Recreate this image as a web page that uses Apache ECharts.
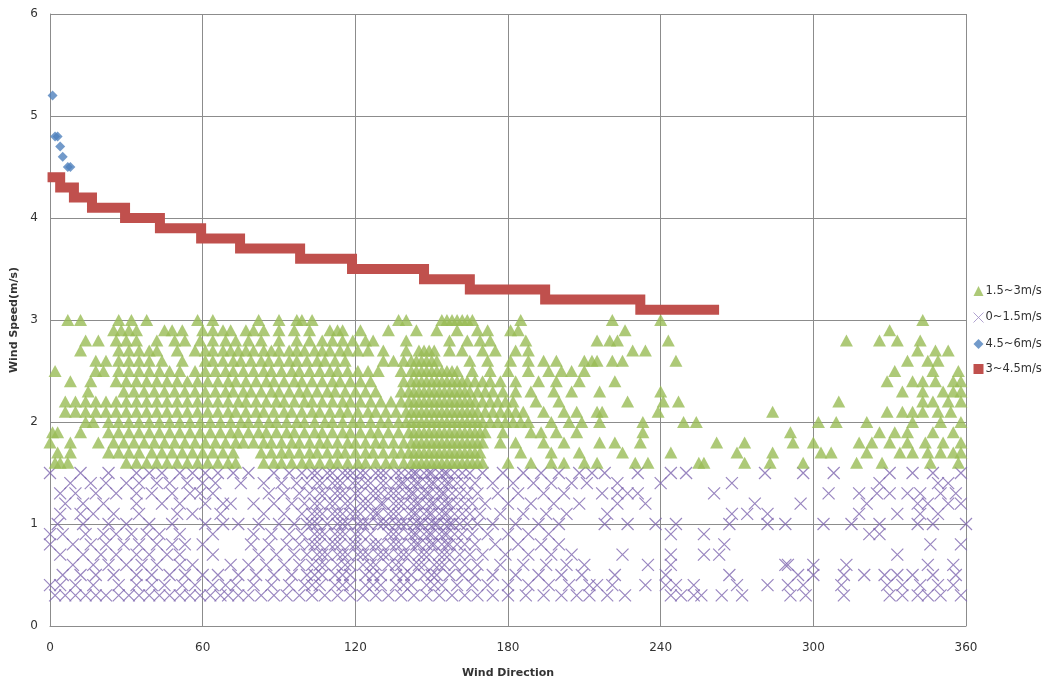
<!DOCTYPE html>
<html>
<head>
<meta charset="utf-8">
<script src="https://cdn.jsdelivr.net/npm/echarts@6/dist/echarts.min.js"></script>
<style>
  html, body { margin: 0; padding: 0; background: #ffffff; }
  #chart { width: 1047px; height: 684px; }
</style>
</head>
<body>
<div id="chart"></div>
<script>
// Wind speed (m/s) versus wind direction (degrees), grouped by speed band.

// 1.5~3 m/s band: one row of directions per speed level
const greenSpeeds = [3.0, 2.9, 2.8, 2.7, 2.6, 2.5, 2.4, 2.3, 2.2, 2.1, 2.0, 1.9, 1.8, 1.7, 1.6];
const greenDirections = [
  [7,12,27,32,38,58,64,82,90,97,99,103,137,140,154,156,158,160,162,164,166,185,221,240,343],
  [25,28,31,34,45,48,52,60,64,68,71,77,80,84,90,96,102,110,113,115,122,133,144,152,160,168,172,181,184,226,330],
  [14,19,26,30,34,42,49,53,59,64,69,73,78,83,90,97,102,107,111,115,119,124,127,140,157,164,169,173,187,215,220,223,243,313,326,333,342],
  [12,27,31,35,39,42,50,57,61,64,68,71,74,77,80,84,87,90,94,97,100,104,107,110,114,117,121,125,131,140,145,147,149,151,157,162,170,175,183,188,229,234,341,348,353],
  [18,22,27,31,35,39,44,52,61,64,68,72,75,79,83,86,90,94,97,101,105,108,112,116,131,135,139,142,144,146,148,150,152,165,172,181,188,194,199,210,213,215,221,225,246,337,345,349],
  [2,18,21,27,31,35,39,43,47,51,57,61,65,69,72,76,80,84,87,91,95,98,102,106,110,113,117,121,125,129,138,142,144,146,148,150,152,154,156,158,160,166,173,180,188,196,201,205,210,332,347,357],
  [8,16,26,30,34,38,42,46,50,54,58,62,66,70,73,77,81,85,88,92,96,99,103,107,111,114,118,122,126,139,142,144,146,148,150,152,154,156,158,160,162,164,167,170,173,177,183,192,199,208,222,329,339,343,348,355,358],
  [15,29,33,37,41,45,49,53,57,61,65,69,72,76,79,83,87,90,94,98,101,105,109,112,116,120,124,128,138,141,143,145,147,149,151,153,155,157,159,161,163,165,168,171,174,178,183,189,198,205,216,240,335,343,351,355,358],
  [6,10,14,18,22,26,30,34,38,42,46,50,54,58,62,66,70,74,77,81,85,89,92,96,100,103,107,111,115,118,122,126,130,134,138,141,143,145,147,149,151,153,155,157,159,161,163,165,167,170,173,176,179,182,191,200,227,241,247,310,343,347,353,358],
  [6,10,14,18,22,26,30,34,38,42,46,50,54,58,62,66,70,73,77,81,84,88,92,95,99,103,106,110,114,117,121,125,128,132,136,140,142,144,146,148,150,152,154,156,158,160,162,164,166,168,171,174,177,180,183,186,194,202,207,215,217,239,284,329,335,339,343,349,354],
  [14,17,23,27,31,35,39,43,47,51,55,59,63,67,71,75,78,82,86,89,93,97,100,104,108,111,115,119,122,126,130,133,137,140,142,144,146,148,150,152,154,156,158,160,162,164,166,168,170,173,176,179,182,185,188,197,204,209,216,233,249,254,302,309,321,339,350,358],
  [1,3,12,23,27,31,35,39,43,47,51,55,59,63,67,71,74,78,82,85,89,93,96,100,104,107,111,115,118,122,126,129,133,137,141,143,145,147,149,151,153,155,157,159,161,163,165,167,169,171,178,189,193,199,207,233,291,326,332,337,347,355],
  [0,8,19,25,29,33,37,41,45,49,53,57,61,65,69,73,76,80,84,87,91,95,98,102,106,109,113,117,120,124,128,131,135,139,142,144,146,148,150,152,154,156,158,160,162,164,166,168,170,177,183,194,202,216,222,232,262,273,292,300,318,323,330,337,344,351,358],
  [3,8,23,27,31,35,40,44,48,52,56,60,64,68,72,83,87,91,94,98,102,105,109,113,116,120,124,127,131,135,138,141,143,145,147,149,151,153,155,157,159,161,163,165,167,169,185,197,208,225,244,270,284,303,307,321,334,339,345,350,355,358],
  [2,4,7,30,34,38,42,46,50,54,58,62,66,70,73,84,88,91,95,99,102,106,110,113,117,121,124,128,132,135,139,142,144,146,148,150,152,154,156,158,160,162,164,166,168,170,180,189,197,202,210,215,230,235,255,257,273,283,296,317,327,346,357]
];

// 0~1.5 m/s band: one row of directions per speed level
const purpleSpeeds = [1.5, 1.4, 1.3, 1.2, 1.1, 1.0, 0.9, 0.8, 0.7, 0.6, 0.5, 0.4, 0.3];
const purpleDirections = [
  [0,12,23,34,39,44,51,56,61,66,72,78,88,94,99,103,105,109,111,115,117,119,122,124,128,130,132,136,138,141,143,144,147,149,150,153,155,156,159,162,165,170,178,186,193,200,208,213,218,231,244,250,281,296,308,330,339,347,358],
  [8,16,22,30,35,42,47,54,60,65,75,84,91,97,101,105,107,111,113,115,119,121,124,126,130,132,136,138,139,142,144,145,148,150,151,154,156,157,160,163,167,174,182,190,197,205,211,223,240,268,326,349,353],
  [4,10,18,26,34,40,48,55,59,64,86,92,98,102,106,108,112,114,116,120,122,126,128,130,133,135,137,140,142,143,146,148,149,152,154,155,158,161,164,168,176,184,194,202,217,223,227,231,261,306,318,325,330,337,342,350,356],
  [6,13,21,34,44,51,61,68,71,80,88,95,100,104,106,110,112,116,118,122,124,126,130,131,135,137,139,142,144,145,148,150,151,154,156,157,160,163,166,171,180,189,198,208,223,234,277,295,321,341,345,353,358],
  [4,12,17,25,35,50,56,67,84,92,99,103,105,107,111,113,115,118,120,122,126,128,129,133,135,137,141,143,144,147,149,150,153,155,156,159,162,165,169,177,186,195,203,219,268,274,282,318,333,342,349],
  [3,13,23,30,39,48,61,68,74,82,90,96,101,103,105,109,113,115,117,121,123,125,129,131,133,136,138,140,143,145,146,149,151,152,155,157,158,161,164,168,174,183,192,200,218,227,238,246,267,282,289,304,315,326,341,347,360],
  [0,5,14,21,26,32,38,43,51,64,80,87,94,99,104,106,108,112,114,116,120,122,126,133,135,137,141,143,144,147,149,150,153,155,156,159,162,166,172,180,188,196,244,257,322,326],
  [0,9,16,22,29,35,42,48,53,60,79,86,93,98,102,104,106,110,112,114,118,120,122,126,128,130,134,136,138,142,144,145,148,150,151,154,156,157,160,163,167,175,184,193,200,265,346,358],
  [4,13,20,26,34,39,46,51,64,82,89,96,101,105,107,109,113,115,117,121,123,125,129,131,133,137,139,141,145,147,149,153,155,157,161,165,170,179,188,197,205,225,244,257,263,333],
  [9,17,23,30,36,42,51,56,71,78,85,92,98,103,106,108,113,116,118,123,126,128,133,136,138,143,145,147,151,153,155,159,163,168,177,186,195,203,210,235,244,289,290,300,313,345,355],
  [5,12,18,25,34,40,47,53,60,66,74,81,88,95,101,104,107,112,115,118,124,127,130,136,139,142,147,150,152,157,162,167,174,183,192,201,209,222,242,267,294,300,312,320,328,333,339,347,356],
  [0,4,10,17,27,34,40,45,52,57,64,69,73,80,87,94,100,103,106,112,115,118,124,127,130,136,139,142,148,151,154,160,166,172,180,188,196,204,212,215,221,234,242,246,253,270,282,290,296,311,329,335,342,349,355],
  [2,6,10,14,18,22,27,31,35,39,43,47,51,55,59,63,67,70,74,78,83,88,93,98,103,108,113,118,123,128,133,138,143,148,153,158,163,168,174,180,187,194,201,207,212,219,226,244,248,253,256,264,272,291,297,312,330,335,341,345,350,358]
];

// 4.5~6 m/s band
const blueDirections = [1, 2, 3, 4, 5, 7, 8];
const blueSpeeds = [5.2, 4.8, 4.8, 4.7, 4.6, 4.5, 4.5];

// 3~4.5 m/s band: runs of constant speed (start direction, end direction, speed)
const redStart = [1, 4, 9.4, 16.5, 29.5, 43.2, 59.4, 74.7, 98.3, 118.7, 147, 165, 194.6, 232];
const redEnd = [4, 9.4, 16.5, 29.5, 43.2, 59.4, 74.7, 98.3, 118.7, 147, 165, 194.6, 232, 261];
const redSpeeds = [4.4, 4.3, 4.2, 4.1, 4.0, 3.9, 3.8, 3.7, 3.6, 3.5, 3.4, 3.3, 3.2, 3.1];

// Axis ticks
const xTicks = [0, 60, 120, 180, 240, 300, 360];
const yTicks = [0, 1, 2, 3, 4, 5, 6];

function rowsToPoints(speeds, directions) {
  const pts = [];
  speeds.forEach((s, i) => directions[i].forEach(d => pts.push([d, s])));
  return pts;
}
const greenData = rowsToPoints(greenSpeeds, greenDirections);
const purpleData = rowsToPoints(purpleSpeeds, purpleDirections);
const blueData = blueDirections.map((d, i) => [d, blueSpeeds[i]]);
const redData = [];
redStart.forEach((s, i) => {
  redData.push([s, redSpeeds[i]]);
  redData.push([redEnd[i], redSpeeds[i]]);
});

const FONT = 'DejaVu Sans';
const gridColor = '#8c8c8c';
const crossPath = 'path://M0,0L10,10M10,0L0,10';

const chart = echarts.init(document.getElementById('chart'), null, { renderer: 'canvas' });
chart.setOption({
  animation: false,
  backgroundColor: '#ffffff',
  textStyle: { fontFamily: FONT },
  grid: { left: 50, right: 81, top: 14, bottom: 54, containLabel: false },
  legend: {
    orient: 'vertical',
    left: 966,
    top: 280,
    itemGap: 13,
    itemWidth: 10,
    itemHeight: 10,
    textStyle: { fontFamily: FONT, fontSize: 11.5, color: '#333333', padding: [0, 0, 0, -3] },
    data: [
      { name: '1.5~3m/s', icon: 'triangle' },
      { name: '0~1.5m/s', icon: crossPath, itemStyle: { color: 'none', borderColor: '#9d8cc4', borderWidth: 1 } },
      { name: '4.5~6m/s', icon: 'diamond' },
      { name: '3~4.5m/s', icon: 'rect' }
    ]
  },
  xAxis: {
    type: 'value',
    min: xTicks[0],
    max: xTicks[xTicks.length - 1],
    interval: 60,
    name: 'Wind Direction',
    nameLocation: 'middle',
    nameGap: 42,
    nameTextStyle: { fontFamily: FONT, fontSize: 11, fontWeight: 'bold', color: '#333333' },
    axisLine: { show: true, lineStyle: { color: gridColor, width: 1 } },
    axisTick: { show: false },
    axisLabel: { fontFamily: FONT, fontSize: 12, color: '#333333', margin: 16 },
    splitLine: { show: true, lineStyle: { color: gridColor, width: 1 } }
  },
  yAxis: {
    type: 'value',
    min: yTicks[0],
    max: yTicks[yTicks.length - 1],
    interval: 1,
    name: 'Wind Speed(m/s)',
    nameLocation: 'middle',
    nameRotate: 90,
    nameGap: 27,
    nameTextStyle: { fontFamily: FONT, fontSize: 11, fontWeight: 'bold', color: '#333333' },
    axisLine: { show: true, lineStyle: { color: gridColor, width: 1 } },
    axisTick: { show: false },
    axisLabel: { fontFamily: FONT, fontSize: 12, color: '#333333', margin: 12 },
    splitLine: { show: true, lineStyle: { color: gridColor, width: 1 } }
  },
  series: [
    {
      name: '1.5~3m/s',
      type: 'scatter',
      data: greenData,
      symbol: 'triangle',
      symbolSize: [13, 12],
      itemStyle: { color: '#98bb55' },
      z: 3
    },
    {
      name: '0~1.5m/s',
      type: 'scatter',
      data: purpleData,
      symbol: crossPath,
      symbolSize: 12,
      itemStyle: { color: 'none', borderColor: '#8068b0', borderWidth: 1.2, opacity: 0.8 },
      z: 2
    },
    {
      name: '4.5~6m/s',
      type: 'scatter',
      data: blueData,
      symbol: 'diamond',
      symbolSize: 10,
      itemStyle: { color: '#4f81bd' },
      z: 4
    },
    {
      name: '3~4.5m/s',
      type: 'line',
      data: redData,
      showSymbol: false,
      symbol: 'none',
      lineStyle: { color: '#c0504d', width: 10, cap: 'square', join: 'miter' },
      itemStyle: { color: '#c0504d' },
      z: 5
    }
  ]
});
</script>
</body>
</html>
